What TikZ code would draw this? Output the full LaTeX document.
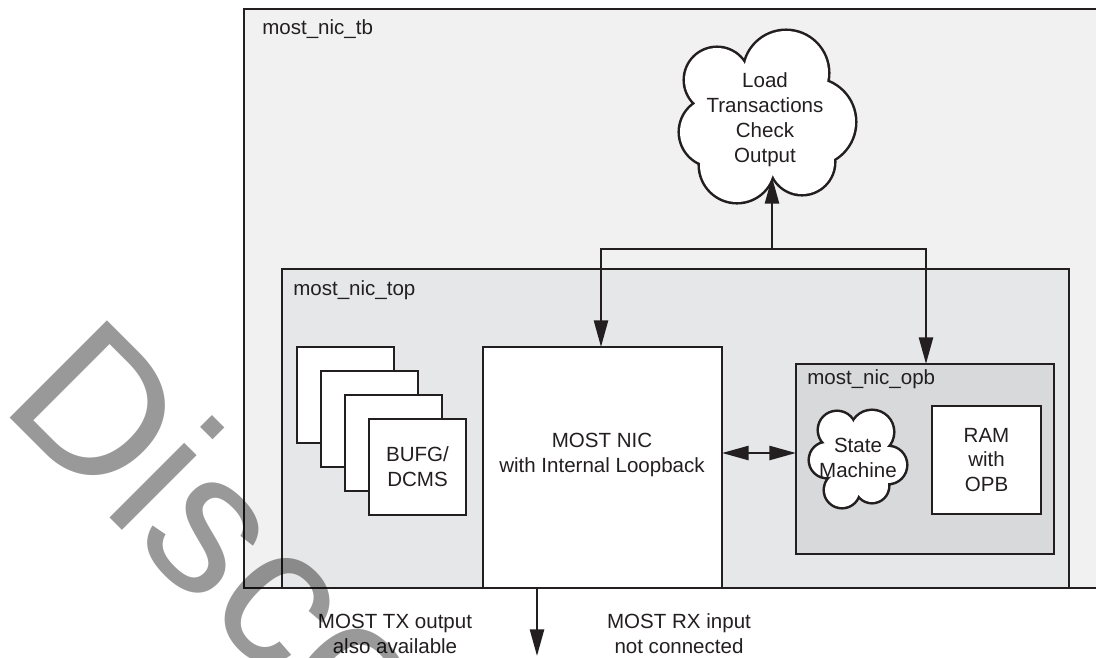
\documentclass[tikz,border=0pt]{standalone}
\usepackage{fontspec}
\setmainfont{Liberation Sans}
\usetikzlibrary{arrows.meta,fit}
\definecolor{ink}{HTML}{231F20}
\definecolor{tbfill}{HTML}{F1F1F1}
\definecolor{topfill}{HTML}{E6E7E8}
\definecolor{opbfill}{HTML}{D8D9DA}
\begin{document}
\begin{tikzpicture}[x=0.75pt,y=-0.75pt,
  frame/.style={draw=ink, line width=1.9pt, inner sep=0pt, outer sep=0pt},
  lbl/.style={font=\fontsize{15.4}{18.7}\selectfont, text=ink, inner sep=0pt, anchor=base west},
  txt/.style={font=\fontsize{15.4}{18.7}\selectfont, text=ink, inner sep=0pt, align=center},
  arr/.style={draw=ink, line width=1.9pt, -{Triangle[length=20pt,width=10.5pt]}},
  dblarr/.style={draw=ink, line width=1.9pt, {Triangle[length=20pt,width=10.5pt]}-{Triangle[length=20pt,width=10.5pt]}},
  puffline/.style={draw=ink, line width=3.8pt},
]
\useasboundingbox (0,0) rectangle (1096,657);
\fill[white] (0,0) rectangle (1096,657);
\clip (0,0) rectangle (1096,657);

% test bench frame
\node[frame, fill=tbfill, fit={(244,9) (1120,588)}] (tb) {};
\node[lbl] (tblbl) at (262,34) {most\_nic\_tb};

% top level
\node[frame, fill=topfill, fit={(282,269) (1069,588)}] (top) {};
\node[lbl] (toplbl) at (293,295) {most\_nic\_top};

% stacked clock buffers
\node[frame, fill=white, fit={(297,347) (394,443)}] (b1) {};
\node[frame, fill=white, fit={(321,371) (418,467)}] (b2) {};
\node[frame, fill=white, fit={(345,395) (442,491)}] (b3) {};
\node[frame, fill=white, fit={(369,419) (466,515)}] (b4) {};
\node[txt] (bufg) at (b4.center) {BUFG/\\DCMS};

% NIC core
\node[frame, fill=white, fit={(483,347) (722,588)}] (nic) {};
\node[txt] (nictxt) at (602,455) {MOST NIC\\with Internal Loopback};

% OPB subsystem
\node[frame, fill=opbfill, fit={(796,364) (1054,554)}] (opb) {};
\node[lbl] (opblbl) at (807,384) {most\_nic\_opb};
\node[frame, fill=white, fit={(932,406) (1041,514)}] (ram) {};
\node[txt] (ramtxt) at (ram.center) {RAM\\with\\OPB};

% state machine cloud: stroked puffs, then white fill over them
\path[puffline] (837,430) circle[radius=13.5pt] (872,432) circle[radius=15.75pt]
  (888,465) circle[radius=13.5pt] (872,486) circle[radius=12pt]
  (842,490) circle[radius=12.75pt] (827,460) circle[radius=12.75pt];
\fill[white] (837,430) circle[radius=13.5pt] (872,432) circle[radius=15.75pt]
  (888,465) circle[radius=13.5pt] (872,486) circle[radius=12pt]
  (842,490) circle[radius=12.75pt] (827,460) circle[radius=12.75pt];
\fill[white] (837,430) -- (872,432) -- (888,465) -- (872,486) -- (842,490) -- (827,460) -- cycle;
\node[txt] (sm) at (858,458) {State\\Machine};

% stimulus cloud
\path[puffline] (717,80) circle[radius=24pt] (786,73) circle[radius=31.5pt]
  (812,122) circle[radius=32.25pt] (802,162) circle[radius=24pt]
  (737,165) circle[radius=27.75pt] (714,132) circle[radius=25.5pt];
\fill[white] (717,80) circle[radius=24pt] (786,73) circle[radius=31.5pt]
  (812,122) circle[radius=32.25pt] (802,162) circle[radius=24pt]
  (737,165) circle[radius=27.75pt] (714,132) circle[radius=25.5pt];
\fill[white] (717,80) -- (786,73) -- (812,122) -- (802,162) -- (737,165) -- (714,132) -- cycle;
\node[txt] (load) at (765,120) {Load\\Transactions\\Check\\Output};
\coordinate (loadtip) at (772,177);

% connectors
\coordinate (bus) at (772,249);
\coordinate (busL) at (601,249);
\coordinate (busR) at (926,249);
\draw[arr] (bus) -- (loadtip);
\draw[arr] (bus) -| (nic.north -| busL);
\draw[arr] (bus) -| (opb.north -| busR);
\coordinate (ay) at (0,453);
\draw[dblarr] (nic.east |- ay) -- (opb.west |- ay);
\coordinate (txout) at (537,656);
\draw[arr] (nic.south -| txout) -- (txout);

\node[txt] (txlbl) at (395,634) {MOST TX output\\also available};
\node[txt] (rxlbl) at (679,634) {MOST RX input\\not connected};

% status stamp
\node[font=\fontsize{150}{150}\selectfont, text=black, text opacity=0.4,
  rotate=-45, anchor=base west, inner sep=0pt] (wm) at (-2,406) {Discontinued};
\end{tikzpicture}
\end{document}
